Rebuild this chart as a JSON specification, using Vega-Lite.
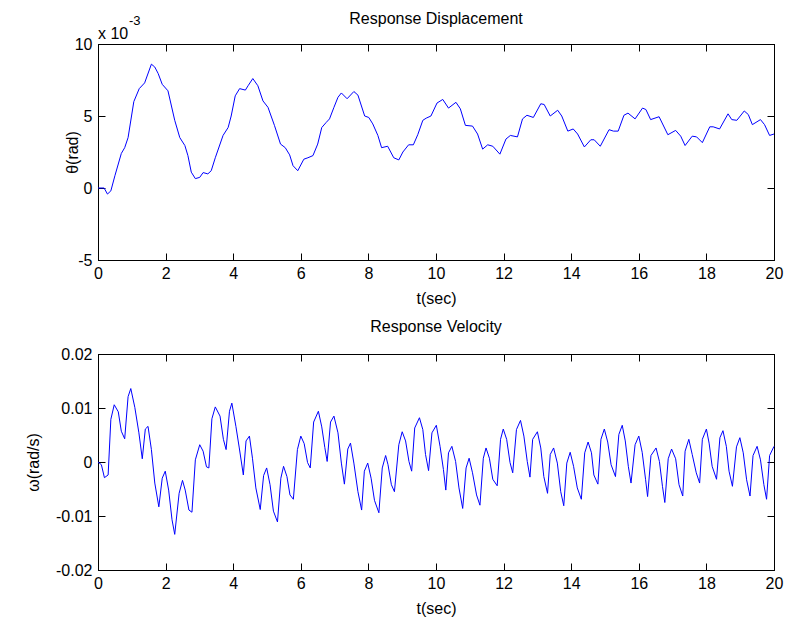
{
  "$schema": "https://vega.github.io/schema/vega-lite/v6.json",
  "autosize": {"type": "pad"},
  "padding": {"left": 24, "top": 10, "right": 5, "bottom": 5},
  "background": "white",
  "config": {
    "font": "Liberation Sans",
    "view": {"stroke": "black", "strokeWidth": 1},
    "axis": {
      "grid": false, "domainColor": "black", "tickColor": "black", "labelColor": "black", "titleColor": "black",
      "labelFont": "Liberation Sans", "titleFont": "Liberation Sans", "labelFontSize": 16, "titleFontSize": 16,
      "titleFontWeight": "normal", "tickSize": -7, "domainWidth": 1, "tickWidth": 1, "labelFlush": false, "labelOverlap": false
    },
    "title": {"font": "Liberation Sans", "fontSize": 16, "fontWeight": "normal", "color": "black", "frame": "group", "anchor": "middle", "baseline": "alphabetic"}
  },
  "datasets": {
    "disp": [
      {"t":0,"theta":0},{"t":0.18,"theta":0},{"t":0.28,"theta":-0.42},{"t":0.38,"theta":-0.2},{"t":0.5,"theta":0.85},
      {"t":0.69,"theta":2.4},{"t":0.79,"theta":2.8},{"t":0.89,"theta":3.5},{"t":1.06,"theta":6.0},{"t":1.22,"theta":6.9},
      {"t":1.38,"theta":7.3},{"t":1.58,"theta":8.6},{"t":1.68,"theta":8.4},{"t":1.78,"theta":7.95},{"t":1.9,"theta":7.2},
      {"t":2.07,"theta":6.75},{"t":2.27,"theta":4.7},{"t":2.42,"theta":3.5},{"t":2.57,"theta":2.95},{"t":2.66,"theta":2.25},
      {"t":2.76,"theta":1.1},{"t":2.88,"theta":0.65},{"t":3.01,"theta":0.74},{"t":3.11,"theta":1.07},{"t":3.25,"theta":0.98},
      {"t":3.35,"theta":1.2},{"t":3.47,"theta":2.1},{"t":3.7,"theta":3.65},{"t":3.85,"theta":4.2},{"t":3.94,"theta":5.0},
      {"t":4.06,"theta":6.4},{"t":4.19,"theta":6.9},{"t":4.36,"theta":6.8},{"t":4.44,"theta":7.1},{"t":4.58,"theta":7.6},
      {"t":4.73,"theta":7.1},{"t":4.88,"theta":6.05},{"t":5.03,"theta":5.6},{"t":5.22,"theta":4.35},{"t":5.4,"theta":3.05},
      {"t":5.54,"theta":2.8},{"t":5.67,"theta":2.3},{"t":5.77,"theta":1.55},{"t":5.91,"theta":1.2},{"t":6.09,"theta":2.0},
      {"t":6.21,"theta":2.1},{"t":6.36,"theta":2.25},{"t":6.5,"theta":3.05},{"t":6.62,"theta":4.2},{"t":6.75,"theta":4.55},
      {"t":6.85,"theta":4.8},{"t":6.98,"theta":5.6},{"t":7.1,"theta":6.3},{"t":7.2,"theta":6.6},{"t":7.37,"theta":6.2},
      {"t":7.57,"theta":6.7},{"t":7.69,"theta":6.45},{"t":7.89,"theta":5.0},{"t":8.01,"theta":4.9},{"t":8.13,"theta":4.45},
      {"t":8.28,"theta":3.65},{"t":8.39,"theta":2.8},{"t":8.57,"theta":2.9},{"t":8.75,"theta":2.1},{"t":8.9,"theta":1.95},
      {"t":9.02,"theta":2.5},{"t":9.19,"theta":3.0},{"t":9.33,"theta":3.0},{"t":9.46,"theta":3.7},{"t":9.61,"theta":4.7},
      {"t":9.71,"theta":4.85},{"t":9.85,"theta":5.0},{"t":10.03,"theta":5.9},{"t":10.2,"theta":6.15},{"t":10.37,"theta":5.55},
      {"t":10.59,"theta":5.95},{"t":10.72,"theta":5.5},{"t":10.87,"theta":4.35},{"t":11.08,"theta":4.3},{"t":11.23,"theta":3.75},
      {"t":11.38,"theta":2.7},{"t":11.53,"theta":3.0},{"t":11.68,"theta":2.9},{"t":11.89,"theta":2.35},{"t":12.07,"theta":3.4},
      {"t":12.2,"theta":3.65},{"t":12.41,"theta":3.55},{"t":12.56,"theta":4.8},{"t":12.69,"theta":5.05},{"t":12.88,"theta":4.9},
      {"t":13.1,"theta":5.85},{"t":13.2,"theta":5.8},{"t":13.38,"theta":5.0},{"t":13.6,"theta":5.4},{"t":13.72,"theta":5.0},
      {"t":13.9,"theta":3.95},{"t":14.06,"theta":4.1},{"t":14.19,"theta":3.75},{"t":14.39,"theta":2.85},{"t":14.58,"theta":3.35},
      {"t":14.68,"theta":3.35},{"t":14.86,"theta":2.9},{"t":15.12,"theta":4.05},{"t":15.25,"theta":3.95},{"t":15.39,"theta":3.95},
      {"t":15.56,"theta":5.05},{"t":15.68,"theta":5.2},{"t":15.89,"theta":4.8},{"t":16.11,"theta":5.55},{"t":16.21,"theta":5.45},
      {"t":16.35,"theta":4.75},{"t":16.6,"theta":4.95},{"t":16.86,"theta":3.7},{"t":17.09,"theta":4.0},{"t":17.24,"theta":3.6},
      {"t":17.37,"theta":2.95},{"t":17.58,"theta":3.6},{"t":17.71,"theta":3.55},{"t":17.88,"theta":3.15},{"t":18.1,"theta":4.25},
      {"t":18.2,"theta":4.25},{"t":18.39,"theta":4.1},{"t":18.64,"theta":5.15},{"t":18.75,"theta":4.75},{"t":18.9,"theta":4.7},
      {"t":19.12,"theta":5.35},{"t":19.24,"theta":5.1},{"t":19.36,"theta":4.4},{"t":19.6,"theta":4.75},{"t":19.72,"theta":4.4},
      {"t":19.87,"theta":3.65},{"t":20.0,"theta":3.75}
    ],
    "vel": [
      {"t":0,"omega":0},{"t":0.1,"omega":-0.0005},{"t":0.19,"omega":-0.0029},{"t":0.3,"omega":-0.0024},{"t":0.38,"omega":0.0079},
      {"t":0.48,"omega":0.0106},{"t":0.6,"omega":0.0093},{"t":0.69,"omega":0.0057},{"t":0.79,"omega":0.0043},{"t":0.89,"omega":0.0121},
      {"t":0.97,"omega":0.0136},{"t":1.09,"omega":0.0101},{"t":1.21,"omega":0.0054},{"t":1.31,"omega":0.0006},{"t":1.4,"omega":0.0061},
      {"t":1.48,"omega":0.0066},{"t":1.58,"omega":0.0023},{"t":1.68,"omega":-0.0039},{"t":1.8,"omega":-0.0083},{"t":1.9,"omega":-0.003},
      {"t":1.99,"omega":-0.0017},{"t":2.09,"omega":-0.0052},{"t":2.19,"omega":-0.0107},{"t":2.27,"omega":-0.0134},{"t":2.4,"omega":-0.0058},
      {"t":2.5,"omega":-0.0034},{"t":2.58,"omega":-0.0052},{"t":2.69,"omega":-0.0089},{"t":2.78,"omega":-0.0093},{"t":2.88,"omega":0.0004},
      {"t":3.01,"omega":0.0032},{"t":3.11,"omega":0.002},{"t":3.21,"omega":-0.0009},{"t":3.28,"omega":-0.0011},{"t":3.37,"omega":0.008},
      {"t":3.47,"omega":0.0102},{"t":3.61,"omega":0.0085},{"t":3.71,"omega":0.0042},{"t":3.79,"omega":0.0023},{"t":3.89,"omega":0.0094},
      {"t":3.96,"omega":0.0109},{"t":4.08,"omega":0.0066},{"t":4.18,"omega":0.0026},{"t":4.3,"omega":-0.0024},{"t":4.38,"omega":0.0039},
      {"t":4.48,"omega":0.0048},{"t":4.57,"omega":0.0007},{"t":4.67,"omega":-0.0048},{"t":4.8,"omega":-0.0088},{"t":4.9,"omega":-0.0025},
      {"t":4.99,"omega":-0.0011},{"t":5.09,"omega":-0.0042},{"t":5.19,"omega":-0.0091},{"t":5.31,"omega":-0.0111},{"t":5.41,"omega":-0.003},
      {"t":5.49,"omega":-0.0008},{"t":5.59,"omega":-0.0027},{"t":5.68,"omega":-0.0061},{"t":5.78,"omega":-0.0069},{"t":5.9,"omega":0.0023},
      {"t":6.0,"omega":0.0048},{"t":6.1,"omega":0.0034},{"t":6.2,"omega":-0.0001},{"t":6.28,"omega":-0.0011},{"t":6.38,"omega":0.0074},
      {"t":6.52,"omega":0.0094},{"t":6.62,"omega":0.0065},{"t":6.71,"omega":0.0027},{"t":6.78,"omega":0.0001},{"t":6.88,"omega":0.0074},
      {"t":6.98,"omega":0.0085},{"t":7.1,"omega":0.0054},{"t":7.2,"omega":-0.0002},{"t":7.29,"omega":-0.0041},{"t":7.39,"omega":0.0024},
      {"t":7.47,"omega":0.0035},{"t":7.57,"omega":-0.0002},{"t":7.69,"omega":-0.0055},{"t":7.8,"omega":-0.0089},{"t":7.88,"omega":-0.0017},
      {"t":7.98,"omega":-0.0002},{"t":8.08,"omega":-0.003},{"t":8.18,"omega":-0.0071},{"t":8.31,"omega":-0.0094},{"t":8.41,"omega":-0.0011},
      {"t":8.51,"omega":0.0012},{"t":8.58,"omega":-0.0005},{"t":8.68,"omega":-0.0042},{"t":8.77,"omega":-0.0055},{"t":8.9,"omega":0.0032},
      {"t":9.0,"omega":0.0056},{"t":9.1,"omega":0.0039},{"t":9.2,"omega":0.0001},{"t":9.28,"omega":-0.0017},{"t":9.37,"omega":0.0063},
      {"t":9.51,"omega":0.0082},{"t":9.61,"omega":0.006},{"t":9.69,"omega":0.0014},{"t":9.78,"omega":-0.0016},{"t":9.88,"omega":0.0054},
      {"t":10.01,"omega":0.0068},{"t":10.12,"omega":0.0029},{"t":10.22,"omega":-0.0014},{"t":10.29,"omega":-0.0052},{"t":10.37,"omega":0.0017},
      {"t":10.47,"omega":0.0029},{"t":10.58,"omega":0.0001},{"t":10.68,"omega":-0.0048},{"t":10.79,"omega":-0.0086},{"t":10.89,"omega":-0.0011},
      {"t":10.98,"omega":0.0007},{"t":11.08,"omega":-0.002},{"t":11.2,"omega":-0.0061},{"t":11.3,"omega":-0.008},{"t":11.4,"omega":0.0007},
      {"t":11.48,"omega":0.0026},{"t":11.58,"omega":0.0007},{"t":11.68,"omega":-0.0032},{"t":11.81,"omega":-0.0044},{"t":11.91,"omega":0.0042},
      {"t":11.99,"omega":0.0061},{"t":12.09,"omega":0.0042},{"t":12.19,"omega":-0.0001},{"t":12.27,"omega":-0.002},{"t":12.38,"omega":0.006},
      {"t":12.5,"omega":0.0077},{"t":12.6,"omega":0.0048},{"t":12.7,"omega":0.0001},{"t":12.78,"omega":-0.0028},{"t":12.86,"omega":0.0042},
      {"t":13.0,"omega":0.0056},{"t":13.1,"omega":0.0026},{"t":13.19,"omega":-0.0027},{"t":13.3,"omega":-0.0058},{"t":13.38,"omega":0.0014},
      {"t":13.48,"omega":0.0026},{"t":13.59,"omega":-0.0002},{"t":13.69,"omega":-0.0055},{"t":13.78,"omega":-0.0081},{"t":13.87,"omega":-0.0002},
      {"t":13.97,"omega":0.0018},{"t":14.07,"omega":-0.0008},{"t":14.18,"omega":-0.0048},{"t":14.3,"omega":-0.0069},{"t":14.4,"omega":0.0017},
      {"t":14.5,"omega":0.0037},{"t":14.6,"omega":0.0017},{"t":14.67,"omega":-0.0024},{"t":14.79,"omega":-0.0041},{"t":14.88,"omega":0.0042},
      {"t":14.98,"omega":0.0061},{"t":15.08,"omega":0.0037},{"t":15.18,"omega":-0.0005},{"t":15.31,"omega":-0.0027},{"t":15.41,"omega":0.0051},
      {"t":15.51,"omega":0.0068},{"t":15.6,"omega":0.0039},{"t":15.69,"omega":-0.0008},{"t":15.77,"omega":-0.0039},{"t":15.89,"omega":0.0032},
      {"t":16.0,"omega":0.0048},{"t":16.1,"omega":0.0018},{"t":16.2,"omega":-0.0032},{"t":16.26,"omega":-0.0064},{"t":16.36,"omega":0.0012},
      {"t":16.51,"omega":0.0026},{"t":16.61,"omega":0.0001},{"t":16.7,"omega":-0.0045},{"t":16.77,"omega":-0.0075},{"t":16.87,"omega":0.0006},
      {"t":16.97,"omega":0.0024},{"t":17.09,"omega":0.0006},{"t":17.19,"omega":-0.0042},{"t":17.3,"omega":-0.0063},{"t":17.37,"omega":0.002},
      {"t":17.48,"omega":0.0042},{"t":17.58,"omega":0.0014},{"t":17.7,"omega":-0.002},{"t":17.8,"omega":-0.0039},{"t":17.88,"omega":0.0042},
      {"t":18.0,"omega":0.0061},{"t":18.08,"omega":0.0035},{"t":18.17,"omega":-0.0008},{"t":18.3,"omega":-0.0032},{"t":18.4,"omega":0.0045},
      {"t":18.49,"omega":0.0058},{"t":18.59,"omega":0.0029},{"t":18.67,"omega":-0.0017},{"t":18.77,"omega":-0.0045},{"t":18.89,"omega":0.0028},
      {"t":18.99,"omega":0.0045},{"t":19.09,"omega":0.0017},{"t":19.19,"omega":-0.0033},{"t":19.29,"omega":-0.0063},{"t":19.38,"omega":0.0012},
      {"t":19.5,"omega":0.0029},{"t":19.6,"omega":0.0004},{"t":19.7,"omega":-0.0042},{"t":19.78,"omega":-0.0069},{"t":19.87,"omega":0.0012},
      {"t":20.0,"omega":0.0029}
    ]
  },
  "spacing": 94,
  "bounds": "flush",
  "vconcat": [
    {
      "width": 676, "height": 216,
      "title": {"text": "Response Displacement", "offset": -12},
      "resolve": {"axis": {"x": "independent", "y": "independent"}},
      "layer": [
        {
          "data": {"name": "disp"},
          "mark": {"type": "line", "color": "#0000ff", "strokeWidth": 1},
          "encoding": {
            "x": {"field": "t", "type": "quantitative", "scale": {"domain": [0, 20], "nice": false, "zero": false},
              "axis": {"orient": "bottom", "values": [0,2,4,6,8,10,12,14,16,18,20], "title": "t(sec)", "labelPadding": 12, "titleBaseline": "alphabetic", "titleY": 43}},
            "y": {"field": "theta", "type": "quantitative", "scale": {"domain": [-5, 10], "nice": false, "zero": false},
              "axis": {"orient": "left", "values": [-5,0,5,10], "title": "θ(rad)", "labelPadding": 13, "labelExpr": "replace(datum.label, '−', '-')",
                "titleX": -21, "titleY": 108, "titleBaseline": "alphabetic", "titleAngle": -90, "titleAlign": "center"}}
          }
        },
        {
          "data": {"values": [{"label": "x 10"}]},
          "mark": {"type": "text", "align": "left", "baseline": "alphabetic", "dy": -5, "fontSize": 16, "font": "Liberation Sans", "color": "black"},
          "encoding": {
            "text": {"field": "label"},
            "x": {"datum": 0, "type": "quantitative", "axis": {"orient": "top", "values": [0,2,4,6,8,10,12,14,16,18,20], "labels": false, "title": null}},
            "y": {"datum": 10, "type": "quantitative", "axis": {"orient": "right", "values": [-5,0,5,10], "labels": false, "title": null}}
          }
        },
        {
          "data": {"values": [{"label": "-3"}]},
          "mark": {"type": "text", "align": "left", "baseline": "alphabetic", "dx": 31, "dy": -19, "fontSize": 13, "font": "Liberation Sans", "color": "black"},
          "encoding": {
            "text": {"field": "label"},
            "x": {"datum": 0, "type": "quantitative", "axis": null},
            "y": {"datum": 10, "type": "quantitative", "axis": null}
          }
        }
      ]
    },
    {
      "width": 676, "height": 216,
      "title": {"text": "Response Velocity", "offset": 11},
      "data": {"name": "vel"},
      "resolve": {"axis": {"x": "independent", "y": "independent"}},
      "layer": [
        {
          "mark": {"type": "line", "color": "#0000ff", "strokeWidth": 1},
          "encoding": {
            "x": {"field": "t", "type": "quantitative", "scale": {"domain": [0, 20], "nice": false, "zero": false},
              "axis": {"orient": "bottom", "values": [0,2,4,6,8,10,12,14,16,18,20], "title": "t(sec)", "labelPadding": 12, "titleBaseline": "alphabetic", "titleY": 43}},
            "y": {"field": "omega", "type": "quantitative", "scale": {"domain": [-0.02, 0.02], "nice": false, "zero": false},
              "axis": {"orient": "left", "values": [-0.02,-0.01,0,0.01,0.02], "title": "ω(rad/s)", "labelPadding": 13,
                "labelExpr": "datum.value == 0 ? '0' : replace(format(datum.value, '.2f'), '−', '-')",
                "titleX": -60, "titleY": 108, "titleBaseline": "alphabetic", "titleAngle": -90, "titleAlign": "center"}}
          }
        },
        {
          "mark": {"type": "line", "strokeOpacity": 0},
          "encoding": {
            "x": {"field": "t", "type": "quantitative", "axis": {"orient": "top", "values": [0,2,4,6,8,10,12,14,16,18,20], "labels": false, "title": null}},
            "y": {"field": "omega", "type": "quantitative", "axis": {"orient": "right", "values": [-0.02,-0.01,0,0.01,0.02], "labels": false, "title": null}}
          }
        }
      ]
    }
  ]
}
